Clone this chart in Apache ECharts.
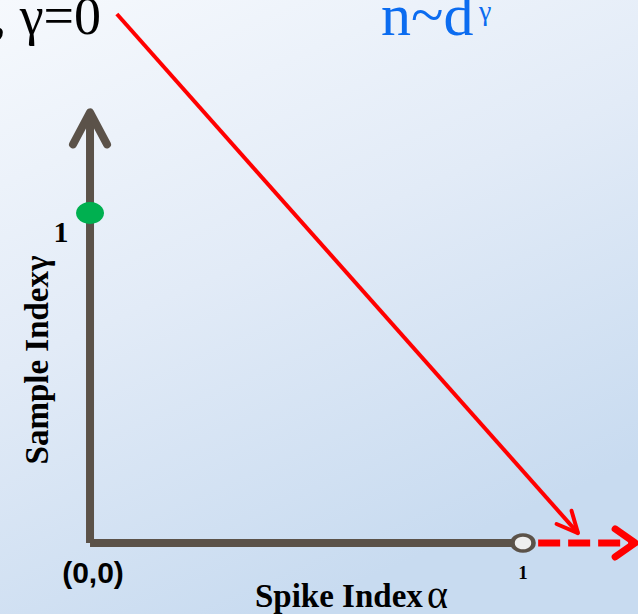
<!DOCTYPE html>
<html>
<head>
<meta charset="utf-8">
<script src="https://cdn.jsdelivr.net/npm/echarts@6/dist/echarts.min.js"></script>
<style>
  html, body { margin: 0; padding: 0; }
  #chart { width: 638px; height: 614px; }
</style>
</head>
<body>
<div id="chart"></div>
<script>
// data (units of alpha / gamma)
const yAxisArrow = [0, 0, 0, 1.305]
const xAxisLine = [0, 0, 0.975, 0]
const redArrow = [0.062, 1.603, 1.127, 0.03]
const dashedArrow = [1.035, 0, 1.259, 0]
const greenPoint = [[0, 1]]
const openPoint = [[1, 0]]
const xTicks = ['1']
const yTicks = ['1']

const AXIS_COLOR = '#5b5249'
const RED = '#ff0000'

// draw a segment and (optionally) an open chevron head at its end
function segmentItem(opt) {
  return function (params, api) {
    const p1 = api.coord([api.value(0), api.value(1)])
    const p2 = api.coord([api.value(2), api.value(3)])
    const children = [
      {
        type: 'line',
        shape: { x1: p1[0], y1: p1[1], x2: p2[0], y2: p2[1] },
        style: {
          stroke: opt.color,
          lineWidth: opt.width,
          lineDash: opt.dash || null,
          lineCap: 'butt'
        }
      }
    ]
    if (opt.head) {
      const dx = p2[0] - p1[0]
      const dy = p2[1] - p1[1]
      const len = Math.sqrt(dx * dx + dy * dy)
      const ux = dx / len
      const uy = dy / len
      const L = opt.head[0]
      const w = opt.head[1]
      children.push({
        type: 'polyline',
        shape: {
          points: [
            [p2[0] - ux * L - uy * w, p2[1] - uy * L + ux * w],
            [p2[0], p2[1]],
            [p2[0] - ux * L + uy * w, p2[1] - uy * L - ux * w]
          ]
        },
        style: {
          stroke: opt.color,
          lineWidth: opt.headWidth || opt.width,
          fill: null,
          lineCap: 'round',
          lineJoin: 'round'
        }
      })
    }
    return { type: 'group', children: children }
  }
}

const serifBold = 'bold 33px "Liberation Serif", "Times New Roman", serif'

const option = {
  animation: false,
  backgroundColor: {
    type: 'linear',
    x: 0, y: 0, x2: 0.45, y2: 1,
    colorStops: [
      { offset: 0, color: '#f6f9fd' },
      { offset: 0.5, color: '#e2ebf7' },
      { offset: 1, color: '#c8dbf0' }
    ]
  },
  grid: { left: 0, right: 0, top: 0, bottom: 0 },
  xAxis: {
    type: 'value', min: -0.2079, max: 1.2656, show: false
  },
  yAxis: {
    type: 'value', min: -0.2152, max: 1.6455, show: false
  },
  series: [
    {
      type: 'custom',
      z: 2,
      renderItem: segmentItem({ color: RED, width: 4, head: [21, 10] }),
      data: [redArrow]
    },
    {
      type: 'custom',
      z: 2,
      renderItem: segmentItem({ color: RED, width: 7, dash: [22, 8], head: [20, 14], headWidth: 7 }),
      data: [dashedArrow]
    },
    {
      type: 'custom',
      z: 3,
      renderItem: segmentItem({ color: AXIS_COLOR, width: 8 }),
      data: [xAxisLine]
    },
    {
      type: 'custom',
      z: 3,
      renderItem: segmentItem({ color: AXIS_COLOR, width: 8, head: [32, 17], headWidth: 8 }),
      data: [yAxisArrow]
    },
    {
      type: 'scatter',
      z: 4,
      symbol: 'circle',
      symbolSize: [28, 22],
      itemStyle: { color: '#00b050', opacity: 1 },
      data: greenPoint
    },
    {
      type: 'scatter',
      z: 4,
      symbol: 'circle',
      symbolSize: [21, 16],
      itemStyle: { color: '#efefef', borderColor: AXIS_COLOR, borderWidth: 4, opacity: 1 },
      data: openPoint
    }
  ],
  graphic: [
    {
      type: 'text', x: 101, y: 16, z: 10,
      style: {
        text: ', γ=0', fill: '#000',
        font: '54px "Liberation Serif", "Times New Roman", serif',
        textAlign: 'right', textVerticalAlign: 'middle'
      }
    },
    {
      type: 'text', x: 381, y: 15, z: 10,
      style: {
        text: 'n~d', fill: '#0b6cf0',
        font: '60px "Liberation Serif", "Times New Roman", serif',
        textAlign: 'left', textVerticalAlign: 'middle'
      }
    },
    {
      type: 'text', x: 479, y: 10, z: 10,
      style: {
        text: 'γ', fill: '#0b6cf0',
        font: '28px "Liberation Serif", "Times New Roman", serif',
        textAlign: 'left', textVerticalAlign: 'middle'
      }
    },
    {
      type: 'text', x: 61, y: 231, z: 10,
      style: {
        text: yTicks[0], fill: '#000', font: 'bold 30px "Liberation Serif", serif',
        textAlign: 'center', textVerticalAlign: 'middle'
      }
    },
    {
      type: 'text', x: 37, y: 360, z: 10, rotation: Math.PI / 2,
      style: {
        text: 'Sample Indexγ', fill: '#000', font: serifBold,
        textAlign: 'center', textVerticalAlign: 'middle'
      }
    },
    {
      type: 'text', x: 93, y: 572, z: 10,
      style: {
        text: '(0,0)', fill: '#000', font: 'bold 30px "Liberation Sans", Arial, sans-serif',
        textAlign: 'center', textVerticalAlign: 'middle'
      }
    },
    {
      type: 'text', x: 523, y: 572, z: 10,
      style: {
        text: xTicks[0], fill: '#000', font: 'bold 19px "Liberation Serif", serif',
        textAlign: 'center', textVerticalAlign: 'middle'
      }
    },
    {
      type: 'text', x: 255, y: 596, z: 10,
      style: {
        text: 'Spike Index', fill: '#000', font: serifBold,
        textAlign: 'left', textVerticalAlign: 'middle'
      }
    },
    {
      type: 'text', x: 427, y: 594, z: 10,
      style: {
        text: 'α', fill: '#000', font: '40px "Liberation Serif", serif',
        textAlign: 'left', textVerticalAlign: 'middle'
      }
    }
  ]
}

const chart = echarts.init(document.getElementById('chart'), null, { renderer: 'svg' })
chart.setOption(option)
</script>
</body>
</html>
